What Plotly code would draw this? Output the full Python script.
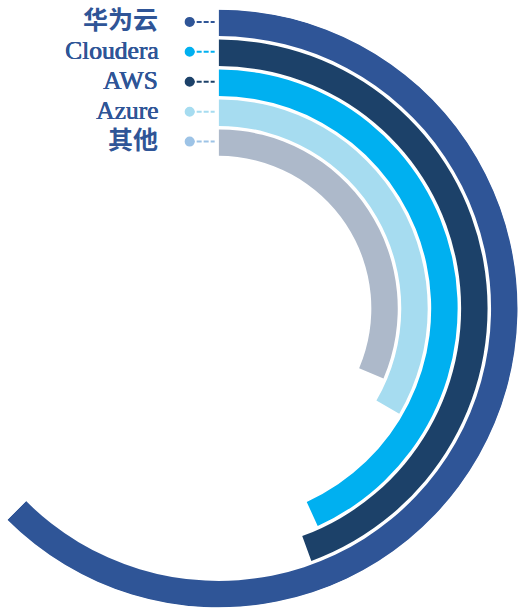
import plotly.graph_objects as go

# ---------------- data ----------------
categories = ["华为云", "Cloudera", "AWS", "Azure", "其他"]
values = [62.5, 44.4, 43.2, 33.4, 31.4]          # share of a full circle (%)
bar_colors = ["#2F5597", "#1C4169", "#00B0F0", "#A6DCF0", "#ADB9CA"]
dot_colors = ["#2F5597", "#00B0F0", "#1C4169", "#A6DCF0", "#9DC3E6"]

# ---------------- layout geometry ----------------
W, H = 518, 610
ML, MR, MT, MB = 7, 0, 8, 1
R_MAX = 300.0          # radial axis range
SLOT = 30.0            # radial distance between rings
THICK = 26.5           # ring thickness
OUTER0 = 299.5

fig = go.Figure()
for i, (cat, v, col) in enumerate(zip(categories, values, bar_colors)):
    outer = OUTER0 - SLOT * i
    deg = v * 360.0 / 100.0
    fig.add_trace(go.Barpolar(
        r=[THICK], base=[outer - THICK], theta=[deg / 2.0], width=[deg],
        marker=dict(color=col, line=dict(width=0)),
        name=cat, showlegend=False, hoverinfo="skip",
    ))

# pixel geometry of the polar subplot (sector [-135, 90])
pw, ph = W - ML - MR, H - MT - MB
bbox_w, bbox_h = 1 + 0.70710678, 2.0
rad_px = min(pw / bbox_w, ph / bbox_h)
scale = rad_px / R_MAX
cx = ML + (pw - rad_px * bbox_w) / 2 + 0.70710678 * rad_px
cy = MT + (ph - rad_px * bbox_h) / 2 + rad_px


def px2paper(x, y):
    return (x - ML) / pw, 1 - (y - MT) / ph


shapes, annotations = [], []
for i, (cat, dc) in enumerate(zip(categories, dot_colors)):
    mid_r = OUTER0 - SLOT * i - THICK / 2
    ypx = cy - mid_r * scale - 1
    x_dot = cx - 29
    x_end = cx - 4
    # dashed connector
    x0, y0 = px2paper(x_dot, ypx)
    x1, _ = px2paper(x_end, ypx)
    shapes.append(dict(type="line", xref="paper", yref="paper", x0=x0, x1=x1, y0=y0, y1=y0,
                       line=dict(color=dc, width=2, dash="5px,2px")))
    # dot
    a0, b0 = px2paper(x_dot - 5, ypx - 5)
    a1, b1 = px2paper(x_dot + 5, ypx + 5)
    shapes.append(dict(type="circle", xref="paper", yref="paper", x0=a0, x1=a1, y0=b0, y1=b1,
                       fillcolor=dc, line=dict(width=0)))
    # label
    is_cjk = any(ord(ch) > 0x2E80 for ch in cat)
    lx, ly = px2paper(cx - 59, ypx - 1)
    annotations.append(dict(text=cat, xref="paper", yref="paper", x=lx, y=ly,
                            xanchor="right", yanchor="middle", showarrow=False,
                            font=dict(family="Liberation Serif, Noto Sans CJK SC",
                                      size=25 if is_cjk else 25.5,
                                      color="#2F5597",
                                      weight="bold" if is_cjk else "normal",
                                      shadow="none" if is_cjk else
                                      "0.6px 0px 0px #2F5597, 0px 0.3px 0px #2F5597")))

fig.update_layout(
    width=W, height=H,
    margin=dict(l=ML, r=MR, t=MT, b=MB, pad=0),
    paper_bgcolor="white", plot_bgcolor="white",
    polar=dict(
        sector=[-135, 90],
        bgcolor="white",
        barmode="overlay",
        radialaxis=dict(range=[0, R_MAX], visible=False, showgrid=False),
        angularaxis=dict(direction="clockwise", rotation=90, visible=False, showgrid=False),
    ),
    shapes=shapes,
    annotations=annotations,
    showlegend=False,
)

fig.write_html("out.html")
